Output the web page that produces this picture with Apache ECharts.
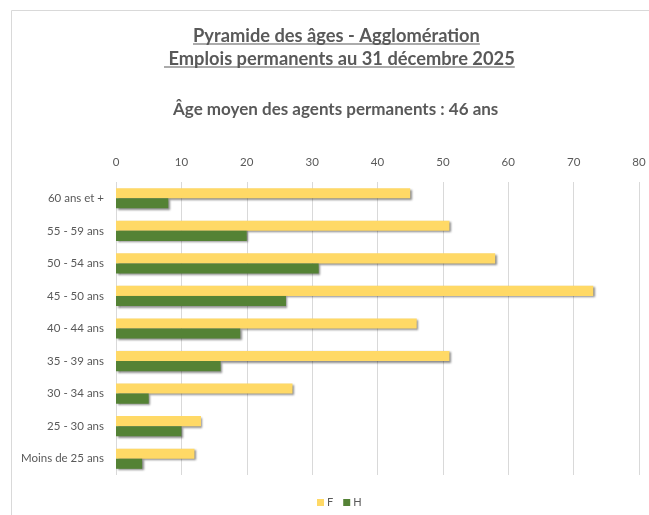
<!DOCTYPE html>
<html>
<head>
<meta charset="utf-8">
<script src="https://cdn.jsdelivr.net/npm/echarts@6/dist/echarts.min.js"></script>
<style>
  html, body { margin: 0; padding: 0; background: #fff; }
  #chart { width: 649px; height: 515px; }
</style>
</head>
<body>
<div id="chart"></div>
<script>
// Age brackets, top to bottom
const categories = ['60 ans et +', '55 - 59 ans', '50 - 54 ans', '45 - 50 ans', '40 - 44 ans',
                    '35 - 39 ans', '30 - 34 ans', '25 - 30 ans', 'Moins de 25 ans'];
// Headcount per bracket
const femmes = [45, 51, 58, 73, 46, 51, 27, 13, 12];
const hommes = [8, 20, 31, 26, 19, 16, 5, 10, 4];
const xTicks = [0, 10, 20, 30, 40, 50, 60, 70, 80];

const titleLine1 = 'Pyramide des âges - Agglomération';
const titleLine2 = ' Emplois permanents au 31 décembre 2025';
const subtitle = 'Âge moyen des agents permanents : 46 ans';

const FONT = 'Lato, "Open Sans", sans-serif';
const TXT = '#595959';

function textWidth(str, font) {
  const c = document.createElement('canvas').getContext('2d');
  c.font = font;
  return c.measureText(str).width;
}

const chart = echarts.init(document.getElementById('chart'), null, { renderer: 'canvas' });

const titleFont = 'bold 18.3px ' + FONT;
const subFont = 'bold 17px ' + FONT;
const x1 = 193;
const x2 = 164;
const w1 = textWidth(titleLine1, titleFont);
const w2 = textWidth(titleLine2, titleFont);

const barShadow = {
  shadowColor: 'rgba(0,0,0,0.45)',
  shadowBlur: 2,
  shadowOffsetX: 1.5,
  shadowOffsetY: 1.5
};

chart.setOption({
  animation: false,
  textStyle: { fontFamily: FONT },
  graphic: [
    { type: 'rect', shape: { x: 11.5, y: 10.5, width: 800, height: 700 },
      style: { fill: 'none', stroke: '#d9d9d9', lineWidth: 1 }, silent: true },
    { type: 'text', x: x1, y: 27, style: { text: titleLine1, font: titleFont, fill: TXT,
      align: 'left', verticalAlign: 'top' } },
    { type: 'line', shape: { x1: x1, y1: 44, x2: x1 + w1, y2: 44 },
      style: { stroke: TXT, lineWidth: 1.2 } },
    { type: 'text', x: x2, y: 50, style: { text: titleLine2, font: titleFont, fill: TXT,
      align: 'left', verticalAlign: 'top' } },
    { type: 'line', shape: { x1: x2, y1: 67, x2: x2 + w2, y2: 67 },
      style: { stroke: TXT, lineWidth: 1.2 } },
    { type: 'text', x: 173, y: 101, style: { text: subtitle, font: subFont, fill: TXT,
      align: 'left', verticalAlign: 'top' } }
  ],
  legend: {
    data: ['F', 'H'],
    bottom: 2,
    left: 312,
    itemWidth: 7,
    itemHeight: 7,
    itemGap: 10,
    icon: 'rect',
    textStyle: { color: TXT, fontSize: 11, fontFamily: FONT, padding: [0, 0, 0, -2] }
  },
  grid: { left: 116, right: 10, top: 182, bottom: 40, containLabel: false },
  xAxis: {
    type: 'value',
    position: 'top',
    min: xTicks[0],
    max: xTicks[xTicks.length - 1],
    interval: 10,
    axisLine: { show: false },
    axisTick: { show: false },
    axisLabel: { color: TXT, fontSize: 11.5, margin: 14 },
    splitLine: { lineStyle: { color: '#d9d9d9', width: 1 } }
  },
  yAxis: {
    type: 'category',
    inverse: true,
    data: categories,
    axisLine: { show: false },
    axisTick: { show: false },
    axisLabel: { color: TXT, fontSize: 11.5, margin: 12 }
  },
  series: [
    { name: 'F', type: 'bar', data: femmes, barGap: '0%', barCategoryGap: '38%',
      itemStyle: Object.assign({ color: '#FFD966' }, barShadow) },
    { name: 'H', type: 'bar', data: hommes,
      itemStyle: Object.assign({ color: '#548235' }, barShadow) }
  ]
});
</script>
</body>
</html>
